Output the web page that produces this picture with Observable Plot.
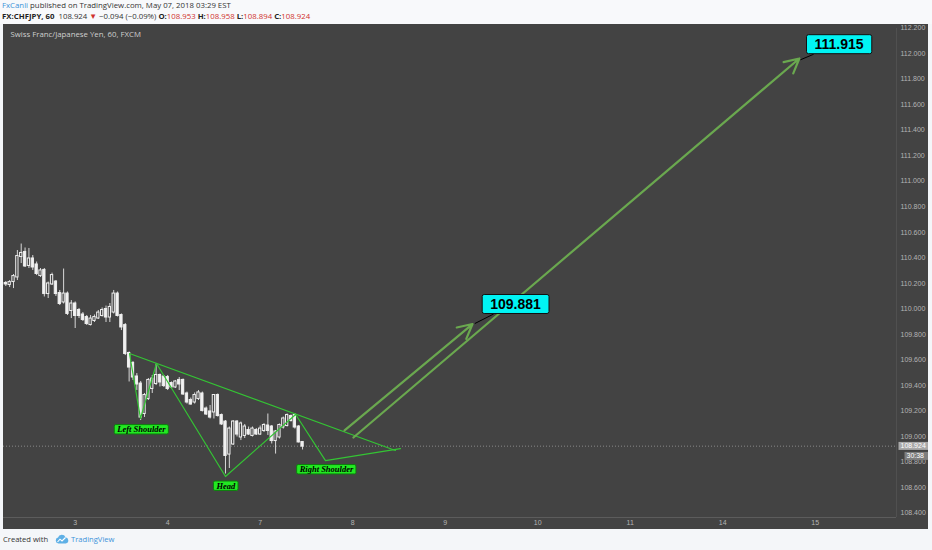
<!DOCTYPE html>
<html><head><meta charset="utf-8">
<script src="https://cdn.jsdelivr.net/npm/d3@7"></script>
<script src="https://cdn.jsdelivr.net/npm/@observablehq/plot@0.6"></script>
<style>
html,body{margin:0;padding:0;background:#f4f6f9;}
body{width:932px;height:550px;overflow:hidden;font-family:"Open Sans",sans-serif;}
#hdr{height:24px;position:relative;background:#f8f9fb;}
.ln{position:absolute;left:2px;font-size:7.8px;color:#333;white-space:nowrap;line-height:11px;}
#l1{top:0px;}
#l2{top:11px;}
.b{font-weight:bold;color:#222;}
.r{color:#d0312d;}
.u{color:#3d93d9;}
#chart{margin-left:3px;width:925px;height:505px;}
#ftr{height:21px;position:relative;}
#ftr .t{position:absolute;top:5px;font-size:7.6px;white-space:nowrap;line-height:11px;}
</style></head>
<body>
<div id="hdr">
  <div class="ln" id="l1"><span class="u">FxCanli</span> published on TradingView.com, May 07, 2018 03:29 EST</div>
  <div class="ln" id="l2"><span class="b">FX:CHFJPY, 60</span>&nbsp; 108.924 <span class="r">▼</span> −0.094 (−0.09%) <span class="b">O:</span><span class="r">108.953</span> <span class="b">H:</span><span class="r">108.958</span> <span class="b">L:</span><span class="r">108.894</span> <span class="b">C:</span><span class="r">108.924</span></div>
</div>
<div id="chart"></div>
<div id="ftr">
  <span class="t" style="left:3px;color:#333;">Created with</span>
  <svg style="position:absolute;left:55px;top:5px" width="14" height="10" viewBox="0 0 14 10"><path d="M3.5 9.5 A3 3 0 0 1 3 3.6 A4 4 0 0 1 10.5 3.2 A3.2 3.2 0 0 1 10.8 9.5 Z" fill="#5fb0e6"/><path d="M2.5 8 L5 5.2 L7 7 L10.5 3.5" stroke="#fff" stroke-width="1.1" fill="none"/></svg>
  <span class="t u" style="left:71px;">TradingView</span>
</div>
<script>
// ---- price data (hourly candles, CHFJPY) ----
const opens = [110.199,110.191,110.214,110.250,110.410,110.442,110.340,110.391,110.344,110.261,
110.301,110.120,110.195,110.210,110.120,110.054,110.116,109.987,110.038,109.987,
109.952,109.932,109.877,109.909,109.928,109.948,109.995,109.936,109.975,110.116,
109.948,109.869,109.650,109.572,109.466,109.411,109.180,109.297,109.376,109.415,
109.478,109.466,109.462,109.415,109.388,109.439,109.439,109.333,109.282,109.270,
109.297,109.333,109.215,109.192,109.192,109.321,109.164,109.113,108.862,108.941,
109.113,108.996,109.008,109.047,109.008,109.047,109.019,109.047,109.082,109.074,
108.968,108.996,109.074,109.086,109.156,109.164,109.074,108.953];
const highs = [110.214,110.222,110.269,110.457,110.508,110.477,110.473,110.418,110.367,110.316,
110.316,110.210,110.280,110.222,110.144,110.312,110.132,110.065,110.054,110.003,
109.971,109.948,109.948,109.952,109.987,110.007,110.022,110.042,110.144,110.132,
109.960,109.885,109.662,109.587,109.493,109.431,109.337,109.454,109.478,109.568,
109.489,109.470,109.478,109.427,109.439,109.462,109.450,109.348,109.301,109.341,
109.360,109.348,109.231,109.243,109.325,109.333,109.176,109.125,109.074,109.125,
109.125,109.113,109.094,109.074,109.074,109.062,109.082,109.101,109.176,109.086,
109.047,109.098,109.152,109.176,109.168,109.180,109.086,108.958];
const lows = [110.175,110.167,110.159,110.222,110.355,110.324,110.316,110.301,110.261,110.246,
110.093,110.081,110.183,110.097,110.026,110.038,109.948,109.924,109.846,109.924,
109.901,109.870,109.866,109.893,109.917,109.936,109.893,109.893,109.960,109.936,
109.830,109.634,109.427,109.439,109.360,109.125,109.149,109.282,109.337,109.399,
109.388,109.384,109.360,109.372,109.376,109.360,109.321,109.254,109.246,109.254,
109.282,109.192,109.164,109.137,109.137,109.152,109.086,108.706,108.749,108.929,
108.996,108.968,108.984,109.008,108.996,109.008,109.008,109.031,109.008,108.941,
108.862,108.980,109.058,109.074,109.113,109.058,108.949,108.894];
const closes = [110.195,110.206,110.253,110.410,110.434,110.336,110.391,110.328,110.277,110.297,
110.120,110.195,110.261,110.120,110.042,110.116,109.964,110.038,109.948,109.948,
109.917,109.885,109.920,109.932,109.967,109.987,109.936,110.011,110.116,109.948,
109.858,109.650,109.544,109.466,109.411,109.152,109.321,109.439,109.450,109.478,
109.427,109.399,109.376,109.388,109.427,109.411,109.333,109.270,109.254,109.321,
109.341,109.203,109.176,109.152,109.321,109.164,109.098,108.851,109.058,109.113,
109.019,109.098,109.074,109.019,109.058,109.019,109.058,109.086,109.047,108.968,
109.035,109.086,109.137,109.164,109.125,109.074,108.957,108.924];

// ---- axis ticks ----
const priceTicks = [108.4,108.6,108.8,109.0,109.2,109.4,109.6,109.8,110.0,110.2,110.4,110.6,110.8,111.0,111.2,111.4,111.6,111.8,112.0,112.2];
const dayTicks = [18,42,66,90,114,138,162,186,210];   // hour index of each day start
const dayLabels = ["3","4","7","8","9","10","11","14","15"];
const xDomain = [-0.597, 231.11];
const yDomain = [108.365, 112.197];
const lastClose = 108.924;
const countdown = "30:38";
const chartTitle = "Swiss Franc/Japanese Yen, 60, FXCM";

// ---- drawings (hour index, price) ----
const patternT = [32.1, 34.95, 39.1, 57.0, 75.2, 82.95, 102.4];
const patternP = [109.650, 109.141, 109.572, 108.686, 109.172, 108.811, 108.905];
const trendT = [32.1, 101.1];
const trendP = [109.650, 108.890];
const arrowStartT = [87.9, 90.2];
const arrowStartP = [109.047, 108.992];
const arrowEndT = [121.1, 205.9];
const arrowEndP = [109.881, 111.962];
const calloutLabels = ["109.881", "111.915"];
const calloutT = [132.25, 216.2];
const calloutP = [110.034, 112.070];
const tailT1 = [121.7, 206.2]; const tailP1 = [109.885, 111.952];
const tailT2 = [126.6, 209.6]; const tailP2 = [109.960, 111.995];
const shapeLabels = ["Left Shoulder", "Head", "Right Shoulder"];
const shapeT = [35.2, 57.1, 83.2];
const shapeP = [109.054, 108.612, 108.741];

const candles = opens.map((o, i) => ({i, open: o, high: highs[i], low: lows[i], close: closes[i]}));
const pattern = patternT.map((t, k) => ({t, p: patternP[k]}));
const trend = trendT.map((t, k) => ({t, p: trendP[k]}));
const arrows = arrowStartT.map((t, k) => ({t1: t, p1: arrowStartP[k], t2: arrowEndT[k], p2: arrowEndP[k]}));
const callouts = calloutLabels.map((s, k) => ({s, t: calloutT[k], p: calloutP[k]}));
const tails = tailT1.map((t, k) => ({t1: t, p1: tailP1[k], t2: tailT2[k], p2: tailP2[k]}));
const shapes = shapeLabels.map((s, k) => ({s, t: shapeT[k], p: shapeP[k]}));

const BG = "#434343";
const plot = Plot.plot({
  width: 925, height: 505,
  marginLeft: 0, marginRight: 32, marginTop: 4, marginBottom: 12,
  style: {background: BG, color: "#b4b4b4", fontSize: "7px", fontFamily: "'Liberation Sans', Arial, sans-serif"},
  x: {type: "linear", domain: xDomain, axis: null},
  y: {domain: yDomain, axis: null},
  marks: [
    Plot.ruleY([yDomain[0]], {stroke: "#5c5c5c"}),
    Plot.ruleX([xDomain[1]], {stroke: "#505050"}),
    Plot.axisX(dayTicks, {tickSize: 0, tickPadding: 3, tickFormat: d => dayLabels[dayTicks.indexOf(d)], label: null, fontSize: 7}),
    Plot.axisY(priceTicks, {anchor: "right", tickSize: 0, tickPadding: 4, tickFormat: d3.format(".3f"), label: null, fontSize: 7}),
    Plot.ruleY([lastClose], {stroke: "#9a9a9a", strokeDasharray: "1,2", strokeWidth: 0.8}),
    Plot.ruleX(candles, {x: "i", y1: "low", y2: "high", stroke: "#d8d8d8", strokeWidth: 1}),
    Plot.rect(candles, {x1: d => d.i - 0.3, x2: d => d.i + 0.3, y1: "open", y2: "close",
      fill: d => d.close >= d.open ? BG : "#f2f2f2", stroke: "#eeeeee", strokeWidth: 1,
      insetTop: -0.5, insetBottom: -0.5}),
    Plot.line(trend, {x: "t", y: "p", stroke: "#34c434", strokeWidth: 1.2}),
    Plot.line(pattern, {x: "t", y: "p", stroke: "#34c434", strokeWidth: 1.2}),
    Plot.arrow(arrows, {x1: "t1", y1: "p1", x2: "t2", y2: "p2", stroke: "#6aa84f", strokeWidth: 2.2, headLength: 11, headAngle: 55}),
    Plot.link(tails, {x1: "t1", y1: "p1", x2: "t2", y2: "p2", stroke: "#000", strokeWidth: 1}),
    Plot.text(callouts, {x: "t", y: "p", text: "s", fontSize: 14, fontWeight: "bold", fill: "#000", ariaDescription: "callout"}),
    Plot.text(shapes, {x: "t", y: "p", text: "s", fontSize: 8.5, fontWeight: "bold", fontStyle: "italic",
      fontFamily: "'Liberation Serif', 'Times New Roman', serif", fill: "#000", ariaDescription: "hslabel"}),
    Plot.text([chartTitle], {frameAnchor: "top-left", dx: 7, dy: 3, lineAnchor: "top", fontSize: 7.8,
      fontFamily: "'Open Sans', sans-serif", fill: "#cfcfcf", ariaDescription: "title"}),
    Plot.text([lastClose], {x: () => xDomain[1], y: d => d, text: d => d3.format(".3f")(d), textAnchor: "start", dx: 4,
      fill: "#ffffff", fontSize: 7, ariaDescription: "pricetag"}),
    Plot.text([lastClose], {x: () => xDomain[1], y: d => d, text: () => countdown, textAnchor: "start", dx: 10, dy: 10,
      fill: "#ffffff", fontSize: 7, ariaDescription: "timetag"})
  ]
});
document.getElementById("chart").appendChild(plot);

// text marks in the order they were declared
const textGroups = Array.from(plot.querySelectorAll('g[aria-label="text"]'));
const groupNames = ["callout", "hslabel", "title", "pricetag", "timetag"];
function findGroup(name) {
  const g = plot.querySelector(`g[aria-description="${name}"]`);
  return g || textGroups[groupNames.indexOf(name)];
}
function addBoxes(name, fill, stroke, padX, padY, rx, fixedW) {
  const g = findGroup(name);
  if (!g) return;
  g.querySelectorAll("text").forEach(t => {
    const b = t.getBBox();
    const r = document.createElementNS("http://www.w3.org/2000/svg", "rect");
    const w = fixedW ? fixedW : b.width + 2 * padX;
    r.setAttribute("x", b.x - padX); r.setAttribute("y", b.y - padY);
    r.setAttribute("width", w); r.setAttribute("height", b.height + 2 * padY);
    r.setAttribute("rx", rx);
    r.setAttribute("fill", fill);
    if (stroke) { r.setAttribute("stroke", stroke); r.setAttribute("stroke-width", 1); }
    if (t.getAttribute("transform")) r.setAttribute("transform", t.getAttribute("transform"));
    t.parentNode.insertBefore(r, t);
  });
}
addBoxes("callout", "#00f4f4", "#111", 8, 1.5, 2);
addBoxes("hslabel", "#22e822", "#0d7d0d", 2, -0.3, 1.5);
addBoxes("pricetag", "#a9a9a9", null, 2, 0.5, 0, 32);
addBoxes("timetag", "#7e7e7e", null, 2, 0.5, 0, 29);
</script>
</body></html>
